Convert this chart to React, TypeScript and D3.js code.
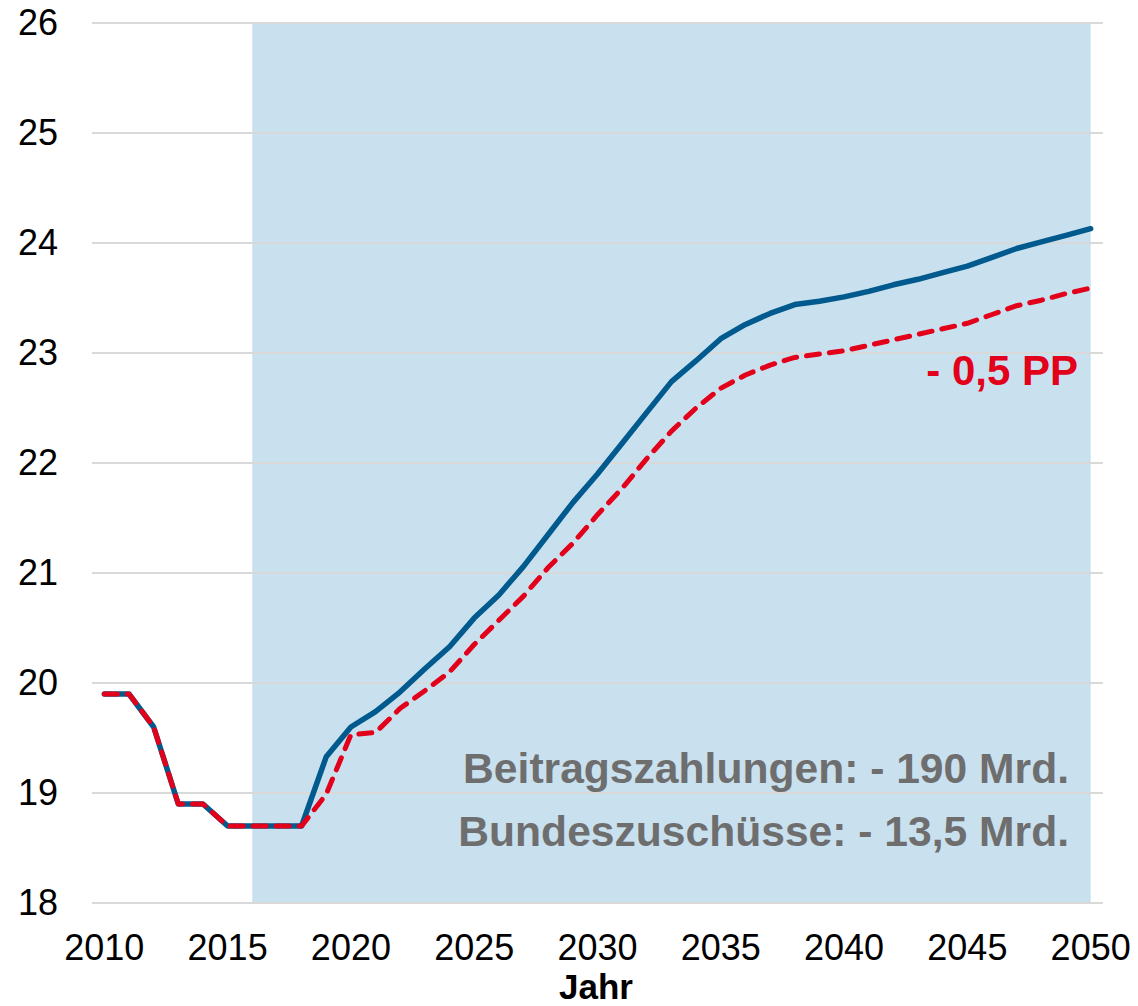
import React from 'react';
import * as d3 from 'd3';

const years = d3.range(2010, 2051);

// Status quo (blue, solid)
const baseline = [
  19.9, 19.9, 19.6, 18.9, 18.9, 18.7, 18.7, 18.7, 18.7, 19.33,
  19.6, 19.74, 19.92, 20.13, 20.33, 20.59, 20.8, 21.06, 21.35, 21.64,
  21.9, 22.18, 22.46, 22.74, 22.93, 23.13, 23.26, 23.36, 23.44, 23.47,
  23.51, 23.56, 23.62, 23.67, 23.73, 23.79, 23.87, 23.95, 24.01, 24.07,
  24.13,
];

// Szenario (red, dashed)
const scenario = [
  19.9, 19.9, 19.6, 18.9, 18.9, 18.7, 18.7, 18.7, 18.7, 18.99,
  19.53, 19.55, 19.77, 19.93, 20.1, 20.35, 20.57, 20.79, 21.05, 21.27,
  21.53, 21.77, 22.04, 22.29, 22.5, 22.68, 22.8, 22.89, 22.96, 22.99,
  23.02, 23.07, 23.12, 23.17, 23.22, 23.27, 23.35, 23.43, 23.48, 23.54,
  23.59,
];

const yTicks = [18, 19, 20, 21, 22, 23, 24, 25, 26];
const xTicks = [2010, 2015, 2020, 2025, 2030, 2035, 2040, 2045, 2050];
const shadeFrom = 2016;
const shadeTo = 2050;
const notes = ['Beitragszahlungen: - 190 Mrd.', 'Bundeszuschüsse: - 13,5 Mrd.'];
const diffLabel = '- 0,5 PP';

const W = 1138;
const H = 1006;
const left = 92;
const right = 1103;
const top = 23;
const bottom = 903;

export default function App() {
  const band = d3.scaleBand<number>().domain(years).range([left, right]);
  const x = (yr: number) => (band(yr) ?? 0) + band.bandwidth() / 2;
  const y = d3.scaleLinear().domain([18, 26]).range([bottom, top]);

  const line = d3.line<number>()
    .x((_, i) => x(years[i]))
    .y(d => y(d));

  const font = 'Liberation Sans, Arial, sans-serif';

  return (
    <svg width={W} height={H} style={{ position: 'absolute', left: 0, top: 0 }}>
      <rect width={W} height={H} fill="#fff" />
      {/* Prognosezeitraum */}
      <rect
        x={x(shadeFrom)}
        y={top}
        width={x(shadeTo) - x(shadeFrom)}
        height={bottom - top}
        fill="#c9e0ee"
      />
      {yTicks.map(t => (
        <g key={t}>
          <line x1={left} x2={right} y1={y(t)} y2={y(t)} stroke="#d9d9d9" strokeWidth={2} />
          <text x={58} y={y(t) + 12} textAnchor="end" fontFamily={font} fontSize={36} fill="#000">
            {t}
          </text>
        </g>
      ))}
      {xTicks.map(t => (
        <text key={t} x={x(t)} y={960} textAnchor="middle" fontFamily={font} fontSize={36} fill="#000">
          {t}
        </text>
      ))}
      <text x={596} y={999} textAnchor="middle" fontFamily={font} fontSize={35} fontWeight="bold" fill="#000">
        Jahr
      </text>

      <path d={line(baseline) || ''} fill="none" stroke="#005a8e" strokeWidth={5.5} strokeLinejoin="round" strokeLinecap="round" />
      <path
        d={line(scenario) || ''}
        fill="none"
        stroke="#e2001a"
        strokeWidth={5}
        strokeDasharray="13 10"
        strokeLinejoin="round"
        strokeLinecap="round"
      />

      <text x={1078} y={385} textAnchor="end" fontFamily={font} fontSize={42} fontWeight="bold" fill="#e2001a">
        {diffLabel}
      </text>
      {notes.map((n, i) => (
        <text
          key={n}
          x={1069}
          y={783 + i * 63}
          textAnchor="end"
          fontFamily={font}
          fontSize={42.6}
          fontWeight="bold"
          fill="#6e6e6e"
        >
          {n}
        </text>
      ))}
    </svg>
  );
}
